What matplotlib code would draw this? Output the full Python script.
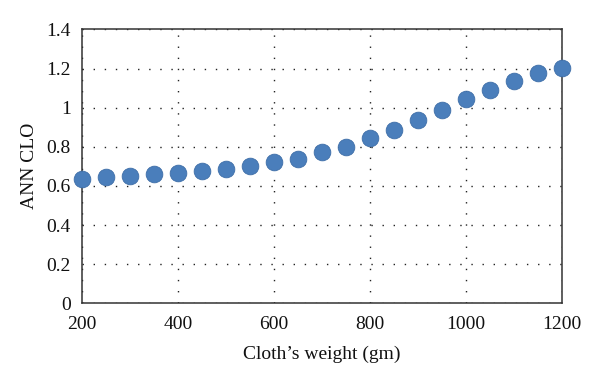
import matplotlib
matplotlib.use("Agg")
import matplotlib.pyplot as plt

weights = [200, 250, 300, 350, 400, 450, 500, 550, 600, 650, 700,
           750, 800, 850, 900, 950, 1000, 1050, 1100, 1150, 1200]
ann_clo = [0.636, 0.648, 0.651, 0.660, 0.668, 0.677, 0.687, 0.703, 0.722, 0.740, 0.771,
           0.801, 0.844, 0.887, 0.938, 0.989, 1.042, 1.089, 1.136, 1.175, 1.204]

xticks = [200, 400, 600, 800, 1000, 1200]
yticks = [0, 0.2, 0.4, 0.6, 0.8, 1.0, 1.2, 1.4]
ytick_labels = ["0", "0.2", "0.4", "0.6", "0.8", "1", "1.2", "1.4"]

plt.rcParams['font.family'] = ['Liberation Serif', 'DejaVu Serif']

fig = plt.figure(figsize=(6.0, 3.86), dpi=100)
ax = fig.add_axes([0.1367, 0.2142, 0.8, 0.7096])

ax.plot(weights, ann_clo, linestyle='none', marker='o', markersize=12,
        markerfacecolor='#4a7ebb', markeredgecolor='#3e6ea8', markeredgewidth=0.6,
        clip_on=False, zorder=3)

ax.set_xlim(200, 1200)
ax.set_ylim(0, 1.4)
ax.set_xticks(xticks)
ax.set_xticklabels([str(t) for t in xticks])
ax.set_yticks(yticks)
ax.set_yticklabels(ytick_labels)
ax.tick_params(axis='both', length=0, labelsize=14, colors='#111111')
ax.tick_params(axis='y', pad=8)
ax.tick_params(axis='x', pad=9)

ax.grid(True, color='#222222', linestyle=(0, (1, 7)), linewidth=1.0)
ax.set_axisbelow(True)

for s in ax.spines.values():
    s.set_color('#333333')
    s.set_linewidth(1.1)

ax.set_xlabel("Cloth\u2019s weight (gm)", fontsize=14, labelpad=9, color='#111111')
ax.set_ylabel("ANN CLO", fontsize=14, labelpad=6, color='#111111')

fig.savefig("out.png", dpi=100)
